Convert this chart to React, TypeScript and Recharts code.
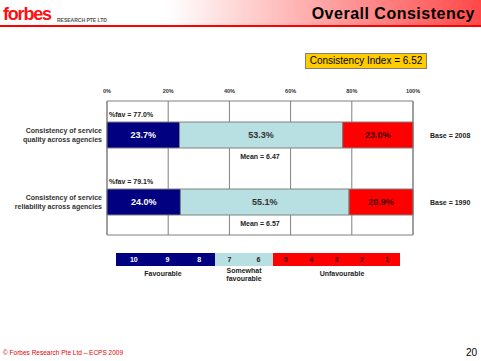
import { BarChart, Bar, XAxis, YAxis, CartesianGrid, ReferenceArea, LabelList } from "recharts";

const categories = [
  ["Consistency of service", "quality across agencies"],
  ["Consistency of service", "reliability across agencies"],
];
const favourable = [23.7, 24.0];
const somewhat = [53.3, 55.1];
const unfavourable = [23.0, 20.9];
const favTotals = [77.0, 79.1];
const means = [6.47, 6.57];
const bases = [2008, 1990];
const tickValues = [0, 20, 40, 60, 80, 100];

const scaleFav = ["10", "9", "8"];
const scaleSome = ["7", "6"];
const scaleUnfav = ["5", "4", "3", "2", "1"];

const NAVY = "#000080";
const LIGHT = "#b8dfe2";
const RED = "#ff0000";
const GRID = "#808080";

const MARGIN = { top: 81, right: 68, bottom: 126, left: 7 };
const W = 481;
const H = 361;
const PLOT_LEFT = MARGIN.left + 100;
const PLOT_MID = PLOT_LEFT + (W - MARGIN.right - PLOT_LEFT) / 2;

const data = categories.map((c, i) => ({
  name: c.join("|"),
  fav: favourable[i],
  some: somewhat[i],
  unfav: unfavourable[i],
  favTotal: favTotals[i],
  mean: means[i],
  base: bases[i],
}));

const pct = (v: any) => `${Number(v).toFixed(1)}%`;
const small = { fontSize: 7, fontWeight: "bold", fill: "#222" } as const;

function CategoryTick(props: any) {
  const { x, y, payload } = props;
  const lines = String(payload.value).split("|");
  return (
    <text x={x} y={y} textAnchor="end" {...small} fill="#333">
      {lines.map((l, i) => (
        <tspan key={i} x={x} dy={i === 0 ? -2 : 9}>
          {l}
        </tspan>
      ))}
    </text>
  );
}

function ScaleBlock({ items, bg, color, width }: any) {
  return (
    <div
      style={{
        width,
        height: 13,
        background: bg,
        color,
        display: "flex",
        justifyContent: "space-around",
        alignItems: "center",
        fontSize: 7,
        fontWeight: "bold",
      }}
    >
      {items.map((s: string) => (
        <span key={s}>{s}</span>
      ))}
    </div>
  );
}

export default function App() {
  return (
    <div
      style={{
        position: "absolute",
        left: 0,
        top: 0,
        width: W,
        height: H,
        background: "#fff",
        fontFamily: "'Liberation Sans', Arial, sans-serif",
        overflow: "hidden",
      }}
    >
      {/* header */}
      <div
        style={{
          position: "absolute",
          left: 0,
          top: 0,
          width: W,
          height: 25,
          background: "linear-gradient(to right, #ffffff 35%, #ff4848 100%)",
          borderBottom: "2px solid #ff0000",
        }}
      />
      <div
        style={{
          position: "absolute",
          left: 3,
          top: 4,
          fontSize: 18,
          fontWeight: "bold",
          color: "#ff1010",
          letterSpacing: -1.2,
        }}
      >
        forbes
      </div>
      <div style={{ position: "absolute", left: 57, top: 17, fontSize: 5, fontWeight: "bold", color: "#555" }}>
        RESEARCH PTE LTD
      </div>
      <div
        style={{
          position: "absolute",
          right: 6,
          top: 5,
          fontSize: 16,
          fontWeight: "bold",
          color: "#000",
          letterSpacing: 0.5,
        }}
      >
        Overall Consistency
      </div>

      <div
        style={{
          position: "absolute",
          left: 305,
          top: 53,
          width: 120,
          height: 14,
          background: "#ffcc00",
          border: "1px solid #808080",
          fontSize: 10,
          lineHeight: "14px",
          textAlign: "center",
        }}
      >
        Consistency Index = 6.52
      </div>

      <div style={{ position: "absolute", left: 0, top: 0 }}>
        <BarChart width={W} height={H} data={data} layout="vertical" margin={MARGIN}>
          <CartesianGrid vertical horizontal={false} stroke={GRID} />
          <XAxis
            type="number"
            orientation="top"
            domain={[0, 100]}
            ticks={tickValues}
            tickFormatter={(v) => `${v}%`}
            axisLine={false}
            tickLine={false}
            height={20}
            tick={{ fontSize: 5.5, fontWeight: "bold", fill: "#333" }}
          />
          <YAxis
            type="category"
            dataKey="name"
            width={100}
            axisLine={false}
            tickLine={false}
            tickSize={3}
            tickMargin={2}
            tick={<CategoryTick />}
          />
          <ReferenceArea x1={0} x2={100} fill="none" stroke={GRID} strokeWidth={1} />
          <Bar dataKey="fav" stackId="a" fill={NAVY} stroke={GRID} barSize={26} isAnimationActive={false}>
            <LabelList dataKey="fav" position="center" formatter={pct} fill="#fff" fontSize={9} fontWeight="bold" />
            <LabelList
              dataKey="favTotal"
              content={(p: any) => (
                <text x={p.x + 2} y={p.y - 5} {...small}>
                  {`%fav = ${pct(p.value)}`}
                </text>
              )}
            />
            <LabelList
              dataKey="mean"
              content={(p: any) => (
                <text x={PLOT_MID} y={p.y + p.height + 11} textAnchor="middle" {...small}>
                  {`Mean = ${Number(p.value).toFixed(2)}`}
                </text>
              )}
            />
          </Bar>
          <Bar dataKey="some" stackId="a" fill={LIGHT} stroke={GRID} barSize={26} isAnimationActive={false}>
            <LabelList dataKey="some" position="center" formatter={pct} fill="#333" fontSize={9} fontWeight="bold" />
          </Bar>
          <Bar dataKey="unfav" stackId="a" fill={RED} stroke={GRID} barSize={26} isAnimationActive={false}>
            <LabelList dataKey="unfav" position="center" formatter={pct} fill="#400" fontSize={9} fontWeight="bold" />
            <LabelList
              dataKey="base"
              content={(p: any) => (
                <text x={p.x + p.width + 17} y={p.y + p.height / 2 + 2.5} {...small}>
                  {`Base = ${p.value}`}
                </text>
              )}
            />
          </Bar>
        </BarChart>
      </div>

      {/* rating scale */}
      <div style={{ position: "absolute", left: 116, top: 253, display: "flex" }}>
        <ScaleBlock items={scaleFav} bg={NAVY} color="#fff" width={99} />
        <ScaleBlock items={scaleSome} bg={LIGHT} color="#222" width={58} />
        <ScaleBlock items={scaleUnfav} bg={RED} color="#400" width={127} />
      </div>
      <div style={{ position: "absolute", left: 123, top: 270, width: 80, textAlign: "center", fontSize: 7, fontWeight: "bold", color: "#222" }}>
        Favourable
      </div>
      <div style={{ position: "absolute", left: 214, top: 267, width: 60, textAlign: "center", fontSize: 7, fontWeight: "bold", color: "#222", lineHeight: "8px" }}>
        Somewhat
        <br />
        favourable
      </div>
      <div style={{ position: "absolute", left: 302, top: 270, width: 80, textAlign: "center", fontSize: 7, fontWeight: "bold", color: "#222" }}>
        Unfavourable
      </div>

      {/* footer */}
      <div style={{ position: "absolute", left: 3, top: 349, fontSize: 6.5, color: "#e00000" }}>
        © Forbes Research Pte Ltd – ECPS 2009
      </div>
      <div style={{ position: "absolute", right: 4, top: 347, fontSize: 10, color: "#000" }}>20</div>
    </div>
  );
}
